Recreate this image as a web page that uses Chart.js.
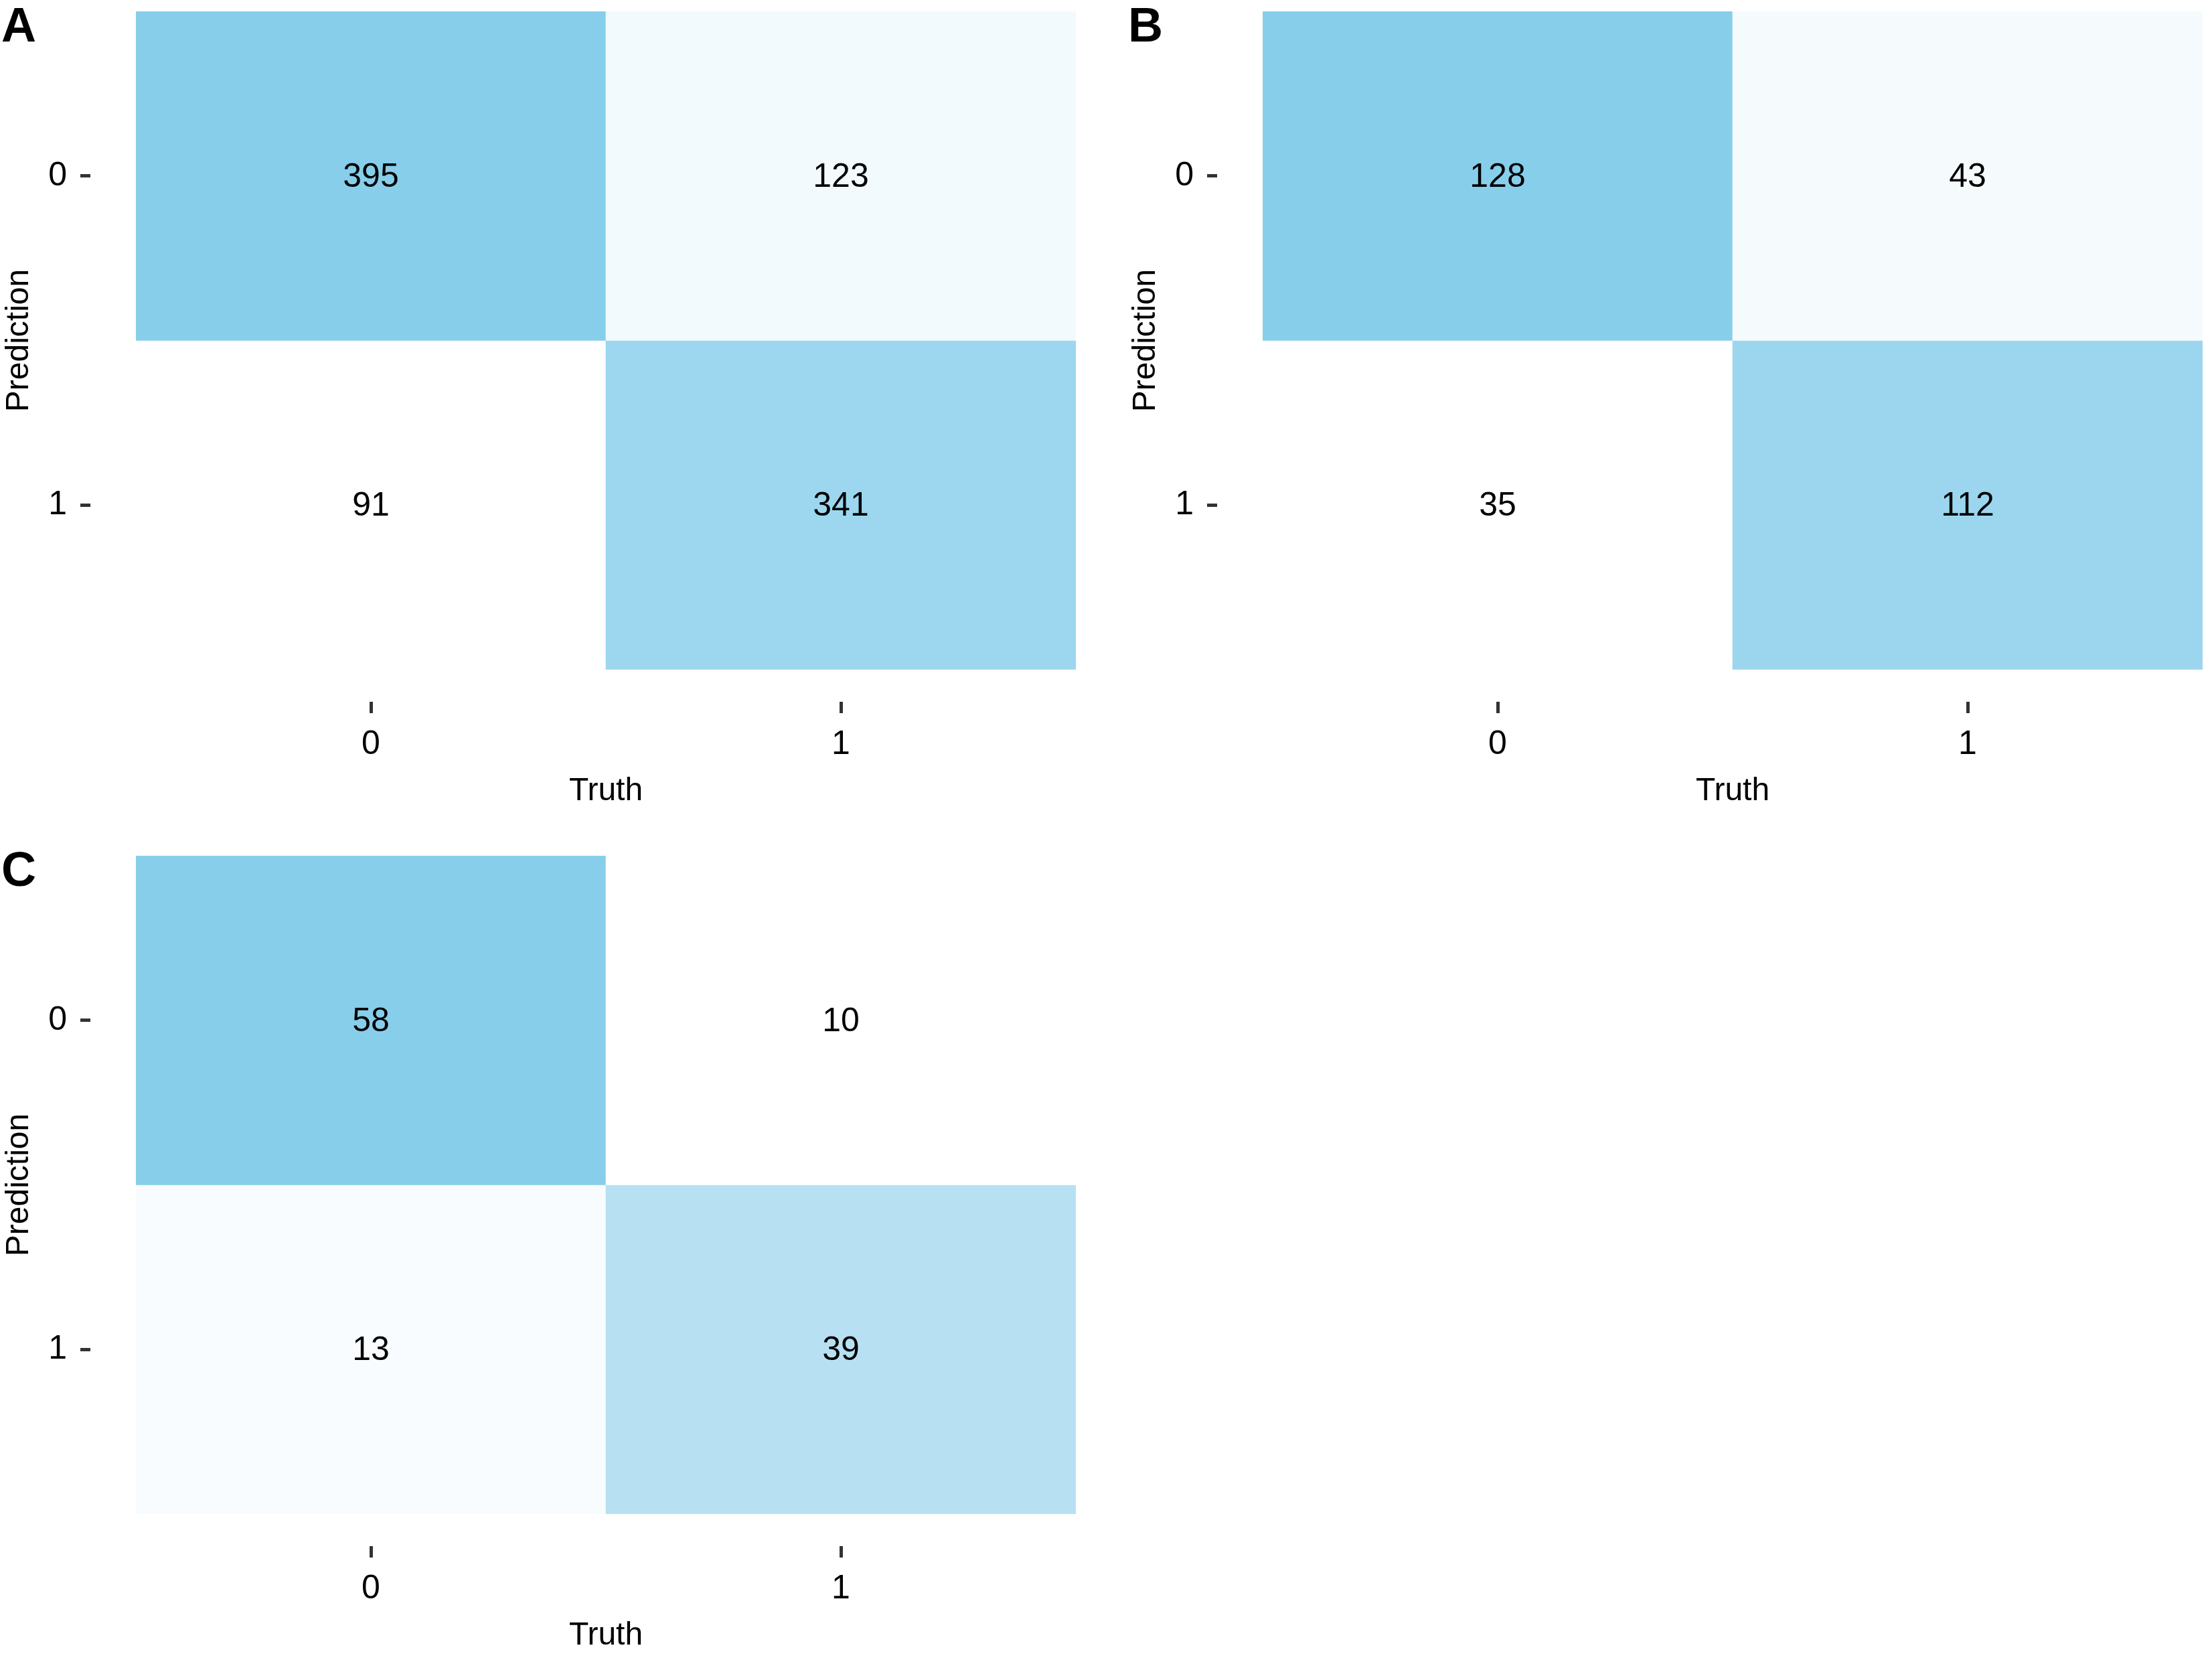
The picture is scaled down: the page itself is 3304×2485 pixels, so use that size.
<!DOCTYPE html>
<html><head><meta charset="utf-8">
<script src="https://cdn.jsdelivr.net/npm/chart.js@4.4.1/dist/chart.umd.min.js"></script>
<style>
html,body{margin:0;padding:0;background:#fff;width:3304px;height:2485px;overflow:hidden;}
.panel{position:absolute;width:1620px;height:1220px;}
.tag{position:absolute;font-family:'Liberation Sans',Arial,sans-serif;font-weight:bold;font-size:72px;line-height:1;color:#000;}
</style></head><body>
<div class="panel" style="left:0;top:0"><canvas id="cA" width="1620" height="1220"></canvas></div>
<div class="panel" style="left:1683px;top:0"><canvas id="cB" width="1620" height="1220"></canvas></div>
<div class="panel" style="left:0;top:1261px"><canvas id="cC" width="1620" height="1220"></canvas></div>
<div class="tag" style="left:2px;top:1px">A</div>
<div class="tag" style="left:1685px;top:1px">B</div>
<div class="tag" style="left:2px;top:1262px">C</div>
<script>
// ---- data ----
const truthLabels = ['0', '1'];
const predictionLabels = ['0', '1'];
const panelA_pred0 = [395, 123];
const panelA_pred1 = [91, 341];
const panelB_pred0 = [128, 43];
const panelB_pred1 = [35, 112];
const panelC_pred0 = [58, 10];
const panelC_pred1 = [13, 39];
const xTitle = 'Truth';
const yTitle = 'Prediction';

// ---- style ----
const FONT = "'Liberation Sans', Arial, sans-serif";
const LOW = [255, 255, 255];
const HIGH = [135, 206, 235];

function colorFor(v, mn, mx) {
  const t = mx === mn ? 0 : (v - mn) / (mx - mn);
  const c = LOW.map((l, k) => Math.round(l + (HIGH[k] - l) * t));
  return `rgb(${c[0]},${c[1]},${c[2]})`;
}

const cellText = {
  id: 'cellText',
  afterDatasetsDraw(chart) {
    const ctx = chart.ctx;
    ctx.save();
    ctx.font = `50px ${FONT}`;
    ctx.fillStyle = '#000';
    ctx.textAlign = 'center';
    ctx.textBaseline = 'middle';
    chart.data.datasets.forEach((ds, di) => {
      chart.getDatasetMeta(di).data.forEach((bar, i) => {
        ctx.fillText(String(ds.values[i]), bar.x, (bar.y + bar.base) / 2 + 2);
      });
    });
    ctx.restore();
  }
};

function makePanel(id, rows) {
  const all = rows.flat();
  const mn = Math.min(...all), mx = Math.max(...all);
  const datasets = rows.map((vals, r) => ({
    values: vals,
    data: vals.map(() => [r, r + 1]),
    backgroundColor: vals.map(v => colorFor(v, mn, mx)),
    borderWidth: 0,
    borderSkipped: false,
    grouped: false,
    barPercentage: 1,
    categoryPercentage: 1
  }));
  new Chart(document.getElementById(id), {
    type: 'bar',
    data: { labels: truthLabels, datasets },
    plugins: [cellText],
    options: {
      responsive: false,
      animation: false,
      devicePixelRatio: 1,
      layout: { padding: { top: 17, right: 13, left: 0, bottom: 0 } },
      plugins: { legend: { display: false }, tooltip: { enabled: false } },
      scales: {
        x: {
          type: 'category',
          offset: true,
          grid: { drawOnChartArea: false, offset: false, drawTicks: true, tickLength: 65, tickWidth: 5,
                  tickColor: '#333', tickBorderDash: [17, 48], tickBorderDashOffset: 17 },
          border: { display: false },
          ticks: { font: { family: FONT, size: 50 }, color: '#000', padding: 17, maxRotation: 0 },
          title: { display: true, text: xTitle, font: { family: FONT, size: 48 }, color: '#000', padding: { top: 9, bottom: 9 } },
          afterFit(s) { s.height = 220; s.paddingLeft = 0; s.paddingRight = 0; }
        },
        y: {
          type: 'linear',
          min: 0, max: predictionLabels.length,
          reverse: true,
          afterBuildTicks(s) { s.ticks = predictionLabels.map((l, i) => ({ value: i + 0.5 })); },
          grid: { drawOnChartArea: false, drawTicks: true, tickLength: 83, tickWidth: 5,
                  tickColor: '#333', tickBorderDash: [15, 68], tickBorderDashOffset: 0 },
          border: { display: false },
          ticks: { font: { family: FONT, size: 50 }, color: '#000', padding: 20,
                   callback: (v) => predictionLabels[Math.floor(v)] },
          title: { display: true, text: yTitle, font: { family: FONT, size: 48 }, color: '#000', padding: { top: 0, bottom: 0 } },
          afterFit(s) { s.width = 203; s.paddingTop = 0; s.paddingBottom = 0; }
        }
      }
    }
  });
}

makePanel('cA', [panelA_pred0, panelA_pred1]);
makePanel('cB', [panelB_pred0, panelB_pred1]);
makePanel('cC', [panelC_pred0, panelC_pred1]);
</script>
</body></html>
